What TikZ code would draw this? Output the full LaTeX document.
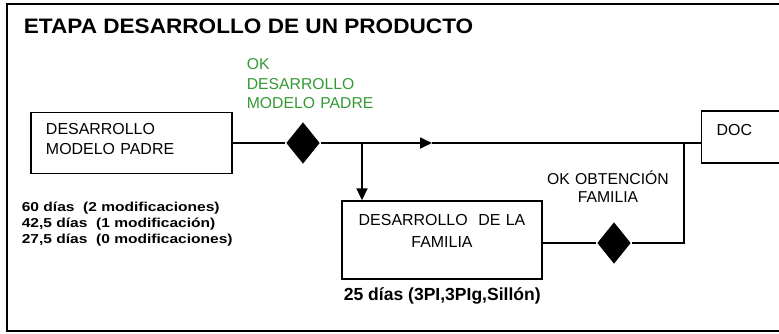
\documentclass[tikz,border=0pt]{standalone}
\usepackage{fontspec}
\setmainfont{Liberation Sans}
\newfontfamily\widefont[FakeStretch=1.2]{Liberation Sans}
\newfontfamily\headfont[FakeStretch=1.08]{Liberation Sans}
\usetikzlibrary{shapes.geometric,arrows.meta,positioning}
\definecolor{okgreen}{RGB}{51,153,51}
\begin{document}
\begin{tikzpicture}[x=1bp,y=-1bp,line width=1.7bp]
        \tikzstyle{every node}=[inner sep=0pt, font=\fontsize{16}{21}\selectfont]
        \tikzstyle{boxnode}=[draw, line width=1.4bp]
        \tikzstyle{okdiamond}=[diamond, fill=black, minimum width=34bp, minimum height=42bp]
        \tikzstyle{note}=[anchor=base west, font=\widefont\bfseries\fontsize{13}{16}\selectfont]
        \tikzstyle{tip}=[-{Triangle[length=12bp,width=11bp]}]
        \useasboundingbox (0,0) rectangle (779,333);
        \clip (0,0) rectangle (779,333);
        \draw[line width=2bp] (6.5,3.5) rectangle (820,331);
        \node[anchor=base west, font=\headfont\bfseries\fontsize{21}{25}\selectfont] (title) at (23,33) {ETAPA DESARROLLO DE UN PRODUCTO};
        % left branch: model
        \node[boxnode, text width=171bp, inner xsep=15bp, align=left, text height=11bp, text depth=29bp, minimum height=61bp] (padre) at (131.5,143) {DESARROLLO\\MODELO PADRE};
        \node[okdiamond] (okpadre) at (303,143) {};
        \node[anchor=north west, text width=130bp, align=left, text=okgreen, font=\fontsize{15.8}{19.5}\selectfont] (okpadrelbl) at (246,58) {OK\\DESARROLLO\\MODELO PADRE};
        \coordinate (split) at (362,143);
        \coordinate (midtip) at (432,143);
        \coordinate (join) at (684,143);
        \node[boxnode, anchor=west, text width=100bp, inner xsep=15bp, align=left, text height=11bp, text depth=15bp, minimum height=52bp] (doc) at (701,137) {DOC};
        % family
        \node[boxnode, text width=200bp, align=center, text height=12bp, text depth=42bp, minimum height=78bp, font=\fontsize{16}{23}\selectfont] (familia) at (442,240) {DESARROLLO\ \ DE LA\\FAMILIA};
        \node[okdiamond] (okfamilia) at (614,243) {};
        \node[anchor=base, text width=130bp, align=center, font=\fontsize{15.8}{19}\selectfont] (okfamilialbl) at (608,184) {OK OBTENCIÓN\\FAMILIA};
        % times
        \node[note] (dias60) at (21,211) {60 días\ \ (2 modificaciones)};
        \node[note] (dias42) at (21,227) {42,5 días\ \ (1 modificación)};
        \node[note] (dias27) at (21,243) {27,5 días\ \ (0 modificaciones)};
        \node[anchor=base west, font=\bfseries\fontsize{17.6}{20}\selectfont] (dias25) at (343,300) {25 días (3PI,3PIg,Sillón)};
        \draw (padre) -- (okpadre);
        \draw[tip] (okpadre) -- (midtip);
        \draw (midtip) -- (doc.west |- midtip);
        \draw[tip] (split) -- (split |- familia.north);
        \draw (familia.east |- okfamilia) -- (okfamilia) -| (join);
\end{tikzpicture}
\end{document}
